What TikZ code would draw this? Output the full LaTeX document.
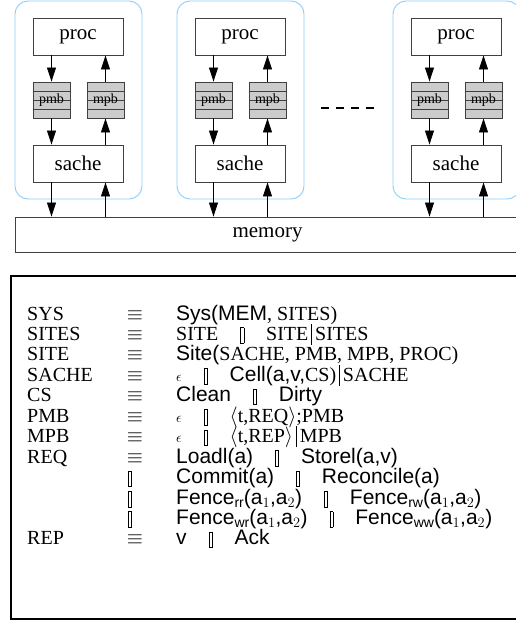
\documentclass[tikz,border=0pt]{standalone}
\usepackage{fontspec}
\setmainfont{Liberation Serif}
\setsansfont{Liberation Sans}
\usetikzlibrary{arrows.meta, calc}

\definecolor{sitecol}{RGB}{140,205,248}

% choice bar, single bar and small epsilon of the grammar
\newcommand{\gd}{{\setlength{\fboxsep}{0pt}\setlength{\fboxrule}{0.6pt}\raisebox{-2.5pt}{\framebox{\rule{0pt}{15pt}\hspace{2.6pt}}}}}
\newcommand{\alt}{\hspace{22pt}\gd\hspace{22pt}}
\newcommand{\sbar}{\hspace{3pt}\rule[-4.5pt]{0.7pt}{21pt}\hspace{3pt}}
\newcommand{\eps}{{\fontsize{14}{14}\selectfont$\epsilon$}}
\newcommand{\fsub}[1]{\raisebox{-3pt}{\fontsize{14}{14}\selectfont #1}}
\newcommand{\sfb}[1]{{\fontsize{21}{24}\selectfont\sffamily #1}}

\begin{document}
\begin{tikzpicture}[x=1pt, y=-1pt,
  sitebox/.style={draw=sitecol, line width=0.9pt, rounded corners=13pt,
    minimum width=127pt, minimum height=198pt},
  box/.style={draw=black!75, line width=0.9pt, minimum width=90pt,
    minimum height=37pt, inner sep=0pt, font=\fontsize{21}{21}\selectfont},
  buf/.style={draw=black!75, fill=black!20, line width=0.9pt,
    minimum width=37pt, minimum height=36pt, inner sep=0pt,
    font=\fontsize{14}{14}\selectfont,
    path picture={\foreach \k in {-9,0,9}
      \draw[black!75, line width=0.9pt]
        ([yshift=\k pt]path picture bounding box.west) --
        ([yshift=\k pt]path picture bounding box.east);}},
  arr/.style={line width=0.8pt, -{Triangle[length=14pt,width=9pt]}},
  rule text/.style={anchor=base west, inner sep=0pt,
    font=\fontsize{20}{24}\selectfont}]
  \useasboundingbox (0,0) rectangle (516,632);
  \clip (0,0) rectangle (516,632);

  % Memory
  \node[box, minimum width=505pt, minimum height=35pt] (mem) at (267.5,234.5) {memory};

  % Sites
  \foreach \i/\d in {1/0, 2/162, 3/378} {
    \node[sitebox] (site\i) at (78.5+\d,100) {};
    \node[box] (proc\i) at (78+\d,36.5) {proc};
    \node[buf] (pmb\i) at (51.5+\d,100) {\raisebox{2pt}{pmb}};
    \node[buf] (mpb\i) at (105.5+\d,100) {\raisebox{2pt}{mpb}};
    \node[box] (sache\i) at (78+\d,163.5) {sache};
    \draw[arr] (pmb\i.north |- proc\i.south) -- (pmb\i.north);
    \draw[arr] (pmb\i.south) -- (pmb\i.south |- sache\i.north);
    \draw[arr] (mpb\i.south |- sache\i.north) -- (mpb\i.south);
    \draw[arr] (mpb\i.north) -- (mpb\i.north |- proc\i.south);
    \draw[arr] (pmb\i.south |- sache\i.south) -- (pmb\i.south |- mem.north);
    \draw[arr] (mpb\i.south |- mem.north) -- (mpb\i.south |- sache\i.south);
  }
  \draw[line width=1.3pt, dash pattern=on 8pt off 7pt] (321,108) -- (375,108);

  % Grammar
  \draw[line width=2.5pt] (11,276) rectangle (540,619);
  \foreach \n/\name in {0/SYS, 1/SITES, 2/SITE, 3/SACHE, 4/CS, 5/PMB, 6/MPB, 7/REQ, 11/REP} {
    \node[rule text] (lhs\n) at (27,320+20.45*\n) {\name};
    \node[rule text, anchor=base] (eq\n) at (135,320+20.45*\n) {$\equiv$};
  }
  \foreach \n in {8,9,10}
    \node[rule text, anchor=base] (alt\n) at (130,320+20.45*\n) {\gd};
  \node[rule text] (rhs0) at (176,320) {\sfb{Sys(MEM}, SITES)};
  \node[rule text] (rhs1) at (176,340.45) {SITE\alt SITE\sbar SITES};
  \node[rule text] (rhs2) at (176,360.9) {\sfb{Site(}SACHE, PMB, MPB, PROC)};
  \node[rule text] (rhs3) at (176,381.35) {\eps\alt\sfb{Cell(a,v,}CS)\sbar SACHE};
  \node[rule text] (rhs4) at (176,401.8) {\sfb{Clean}\alt\sfb{Dirty}};
  \node[rule text] (rhs5) at (176,422.25) {\eps\alt$\langle$t,REQ$\rangle$;PMB};
  \node[rule text] (rhs6) at (176,442.7) {\eps\alt$\langle$t,REP$\rangle$\sbar MPB};
  \node[rule text] (rhs7) at (176,463.15) {\sfb{Loadl(a)}\alt\sfb{Storel(a,v)}};
  \node[rule text] (rhs8) at (176,483.6) {\sfb{Commit(a)}\alt\sfb{Reconcile(a)}};
  \node[rule text] (rhs9) at (176,504.05) {\sfb{Fence\fsub{rr}(a$_1$,a$_2$)}\alt\sfb{Fence\fsub{rw}(a$_1$,a$_2$)}};
  \node[rule text] (rhs10) at (176,524.5) {\sfb{Fence\fsub{wr}(a$_1$,a$_2$)}\alt\sfb{Fence\fsub{ww}(a$_1$,a$_2$)}};
  \node[rule text] (rhs11) at (176,544.95) {\sfb{v}\alt\sfb{Ack}};
\end{tikzpicture}
\end{document}
